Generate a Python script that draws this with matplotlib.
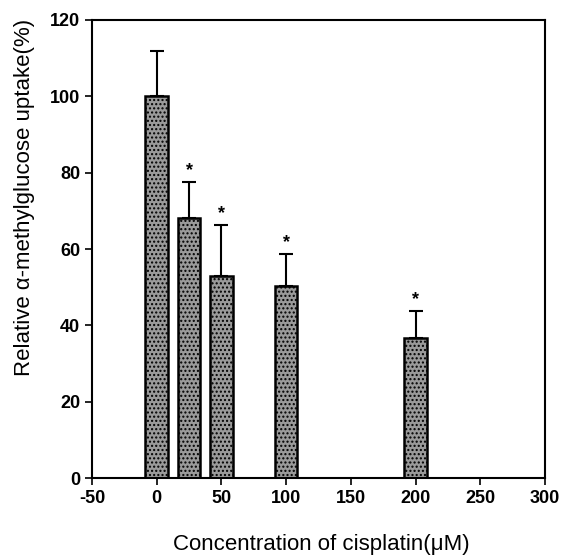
import matplotlib
matplotlib.use("Agg")
import matplotlib.pyplot as plt
import numpy as np

concentrations = [0, 25, 50, 100, 200]
uptake = [100, 68, 53, 50.3, 36.6]
errors = [12, 9.6, 13.4, 8.4, 7.1]
significant = [False, True, True, True, True]
xticks = [-50, 0, 50, 100, 150, 200, 250, 300]
yticks = [0, 20, 40, 60, 80, 100, 120]

plt.rcParams['font.family'] = ['Liberation Sans', 'DejaVu Sans']
plt.rcParams['axes.unicode_minus'] = False
plt.rcParams['hatch.color'] = '#2e2e2e'
plt.rcParams['hatch.linewidth'] = 1.0
fig = plt.figure(figsize=(5.61, 5.55), dpi=100)
ax = fig.add_axes([0.164, 0.1387, 0.8075, 0.8253])

ax.bar(concentrations, uptake, width=17.5, color='#9a9a9a', edgecolor='black',
       linewidth=1.8, hatch='....', zorder=2)
ax.errorbar(concentrations, uptake, yerr=[np.zeros(len(errors)), errors], fmt='none',
            ecolor='black', elinewidth=1.5, capsize=5, capthick=1.5, zorder=3)
for x, y, e, s in zip(concentrations, uptake, errors, significant):
    if s:
        ax.text(x, y + e + 3.0, '*', ha='center', va='center', fontsize=13, fontweight='bold')

ax.set_xlim(-50, 300)
ax.set_ylim(0, 120)
ax.set_xticks(xticks)
ax.set_yticks(yticks)
ax.tick_params(direction='out', length=5, width=1.2, labelsize=13)
for lab in ax.get_xticklabels() + ax.get_yticklabels():
    lab.set_fontweight('bold')
for sp in ax.spines.values():
    sp.set_linewidth(1.5)

ax.set_xlabel('Concentration of cisplatin(\u03bcM)', fontsize=16)
ax.set_ylabel('Relative \u03b1-methylglucose uptake(%)', fontsize=16)
ax.xaxis.set_label_coords(0.506, -0.146)
ax.yaxis.set_label_coords(-0.148, 0.612)
ax.xaxis.label.set_va('center')
ax.yaxis.label.set_va('center')

fig.savefig('out.png', dpi=100)
